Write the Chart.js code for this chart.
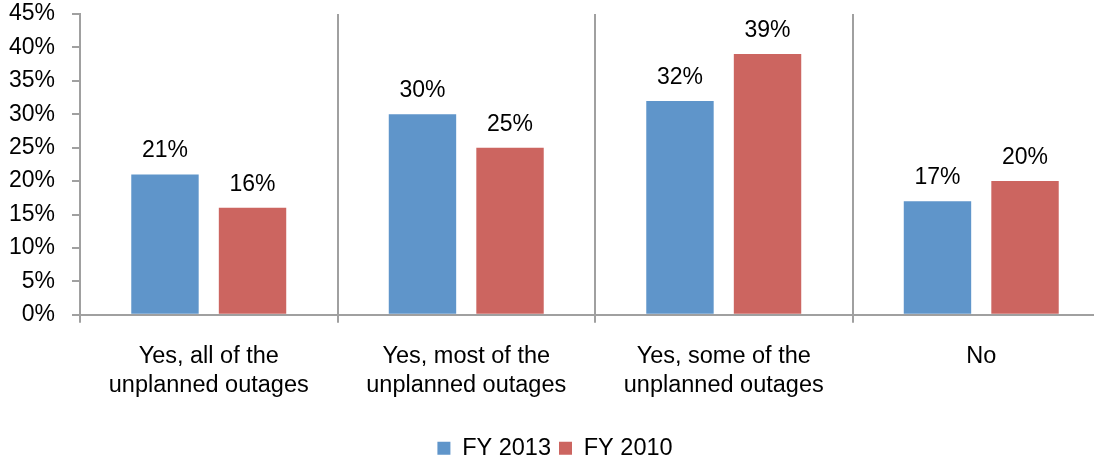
<!DOCTYPE html>
<html>
<head>
<meta charset="utf-8">
<script src="https://cdn.jsdelivr.net/npm/chart.js@4"></script>
<style>
  html, body { margin: 0; padding: 0; background: #fff; overflow: hidden; }
  #wrap { width: 1110px; height: 464px; position: relative; }
</style>
</head>
<body>
<div id="wrap"><canvas id="myChart"></canvas></div>
<script>
// Chart data
var categories = [
    ['Yes, all of the', 'unplanned outages'],
    ['Yes, most of the', 'unplanned outages'],
    ['Yes, some of the', 'unplanned outages'],
    'No'
];
var fy2013 = [21, 30, 32, 17];
var fy2010 = [16, 25, 39, 20];
var yTicks = [0, 5, 10, 15, 20, 25, 30, 35, 40, 45];

var gridColor = '#A0A0A0';
var fontFamily = '"Liberation Sans", Arial, sans-serif';

// Draws the percentage above each bar
var barLabels = {
    id: 'barLabels',
    afterDatasetsDraw: function(chart) {
        var ctx = chart.ctx;
        ctx.save();
        ctx.font = '23px ' + fontFamily;
        ctx.fillStyle = '#000';
        ctx.textAlign = 'center';
        ctx.textBaseline = 'alphabetic';
        chart.data.datasets.forEach(function(ds, i) {
            chart.getDatasetMeta(i).data.forEach(function(bar, j) {
                ctx.fillText(ds.data[j] + '%', bar.x, bar.y - 17);
            });
        });
        ctx.restore();
    }
};

// Nudge the legend down a little, closer to the bottom edge
var legendShift = {
    id: 'legendShift',
    afterLayout: function(chart) {
        if (chart.legend) {
            chart.legend.top += 6;
            chart.legend.bottom += 6;
        }
    }
};

var ctx = document.getElementById('myChart').getContext('2d');
var myChart = new Chart(ctx, {
    type: 'bar',
    data: {
        labels: categories,
        datasets: [{
            label: 'FY 2013',
            data: fy2013,
            backgroundColor: '#5F95CA',
            categoryPercentage: 0.68,
            barPercentage: 0.77
        },
        {
            label: 'FY 2010',
            data: fy2010,
            backgroundColor: '#CC6560',
            categoryPercentage: 0.68,
            barPercentage: 0.77
        }]
    },
    options: {
        responsive: true,
        maintainAspectRatio: false,
        animation: false,
        layout: { padding: 0 },
        plugins: {
            legend: {
                position: 'bottom',
                labels: {
                    color: '#000',
                    font: { family: fontFamily, size: 23.5 },
                    boxWidth: 13,
                    boxHeight: 13,
                    padding: 8
                }
            },
            tooltip: { enabled: false }
        },
        scales: {
            x: {
                afterFit: function(scale) { scale.height = scale.height + 3; },
                grid: {
                    color: gridColor,
                    lineWidth: 2,
                    tickLength: 8,
                    drawOnChartArea: true
                },
                border: { color: gridColor, width: 2 },
                ticks: {
                    color: '#000',
                    font: { family: fontFamily, size: 23.5, lineHeight: 1.25 },
                    padding: 19,
                    maxRotation: 0
                }
            },
            y: {
                min: 0,
                max: 45,
                afterFit: function(scale) {
                    scale.width = 80;
                    scale.paddingTop = 14;
                    scale.paddingBottom = 0;
                },
                afterBuildTicks: function(scale) {
                    scale.ticks = yTicks.map(function(v) { return { value: v }; });
                },
                grid: {
                    color: gridColor,
                    lineWidth: 2,
                    tickLength: 8,
                    drawOnChartArea: false
                },
                border: { color: gridColor, width: 2 },
                ticks: {
                    color: '#000',
                    font: { family: fontFamily, size: 23 },
                    padding: 17,
                    callback: function(v) { return v + '%'; }
                }
            }
        }
    },
    plugins: [barLabels, legendShift]
});
</script>
</body>
</html>
